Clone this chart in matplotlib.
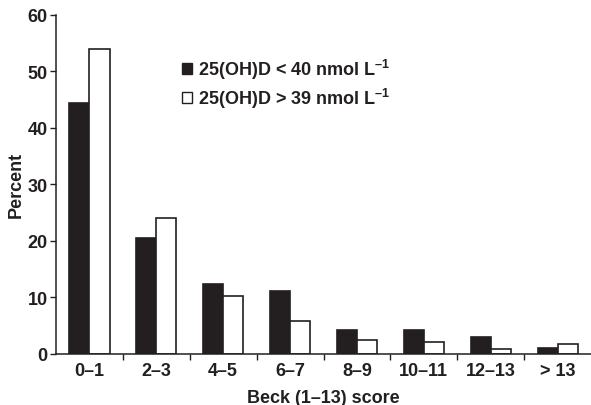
import matplotlib
matplotlib.use("Agg")
import matplotlib.pyplot as plt
from matplotlib.patches import Patch
import numpy as np

categories = ["0–1", "2–3", "4–5", "6–7", "8–9", "10–11", "12–13", "> 13"]
low_vals = [44.3, 20.4, 12.3, 11.1, 4.2, 4.2, 2.9, 1.0]
high_vals = [54.0, 24.0, 10.2, 5.7, 2.5, 2.1, 0.9, 1.7]
yticks = [0, 10, 20, 30, 40, 50, 60]
label_low = r"25(OH)D < 40 nmol L$^{\mathregular{–1}}$"
label_high = r"25(OH)D > 39 nmol L$^{\mathregular{–1}}$"

ink = "#231f20"
fs = 13
plt.rcParams["font.family"] = ["Liberation Sans", "DejaVu Sans"]
plt.rcParams["font.weight"] = "bold"
plt.rcParams["mathtext.fontset"] = "custom"
plt.rcParams["mathtext.rm"] = "Liberation Sans:bold"
plt.rcParams["mathtext.bf"] = "Liberation Sans:bold"
plt.rcParams["mathtext.default"] = "regular"

fig = plt.figure(figsize=(5.91, 4.06), dpi=100)
ax = fig.add_axes([56/591, 1-354.7/406, (591-56)/591, (354.7-15.7)/406])

x = np.arange(len(categories))
w = 0.3
ax.bar(x - w/2, low_vals, w, color=ink, edgecolor=ink, linewidth=1.2, label=label_low)
ax.bar(x + w/2, high_vals, w, color="white", edgecolor=ink, linewidth=1.2, label=label_high)

ax.set_xlim(-0.5, 7.5)
ax.set_ylim(0, 60)
ax.set_yticks(yticks)
ax.set_xticks(x)
ax.set_xticklabels(categories)
ax.set_xticks(np.arange(0.5, 7.5, 1), minor=True)
ax.tick_params(axis="x", which="major", length=0, pad=6, labelsize=fs, colors=ink)
ax.tick_params(axis="x", which="minor", length=4, width=1, color=ink)
ax.tick_params(axis="y", length=4, width=1, labelsize=fs, colors=ink, pad=2)
for s in ["top", "right"]:
    ax.spines[s].set_visible(False)
for s in ["left", "bottom"]:
    ax.spines[s].set_linewidth(1.1)
    ax.spines[s].set_color(ink)

ax.set_ylabel("Percent", fontsize=fs, fontweight="bold", color=ink, labelpad=2)
ax.set_xlabel("Beck (1–13) score", fontsize=fs, fontweight="bold", color=ink, labelpad=7)

handles = [Patch(facecolor=ink, edgecolor=ink, linewidth=1),
           Patch(facecolor="white", edgecolor=ink, linewidth=1)]
leg = ax.legend(handles, [label_low, label_high], loc="upper left",
                bbox_to_anchor=(0.235, 0.875), frameon=False, fontsize=fs,
                handlelength=0.55, handleheight=0.55, handletextpad=0.35,
                labelspacing=0.25, borderaxespad=0, borderpad=0)
for t in leg.get_texts():
    t.set_color(ink)

fig.savefig("out.png", dpi=100)
